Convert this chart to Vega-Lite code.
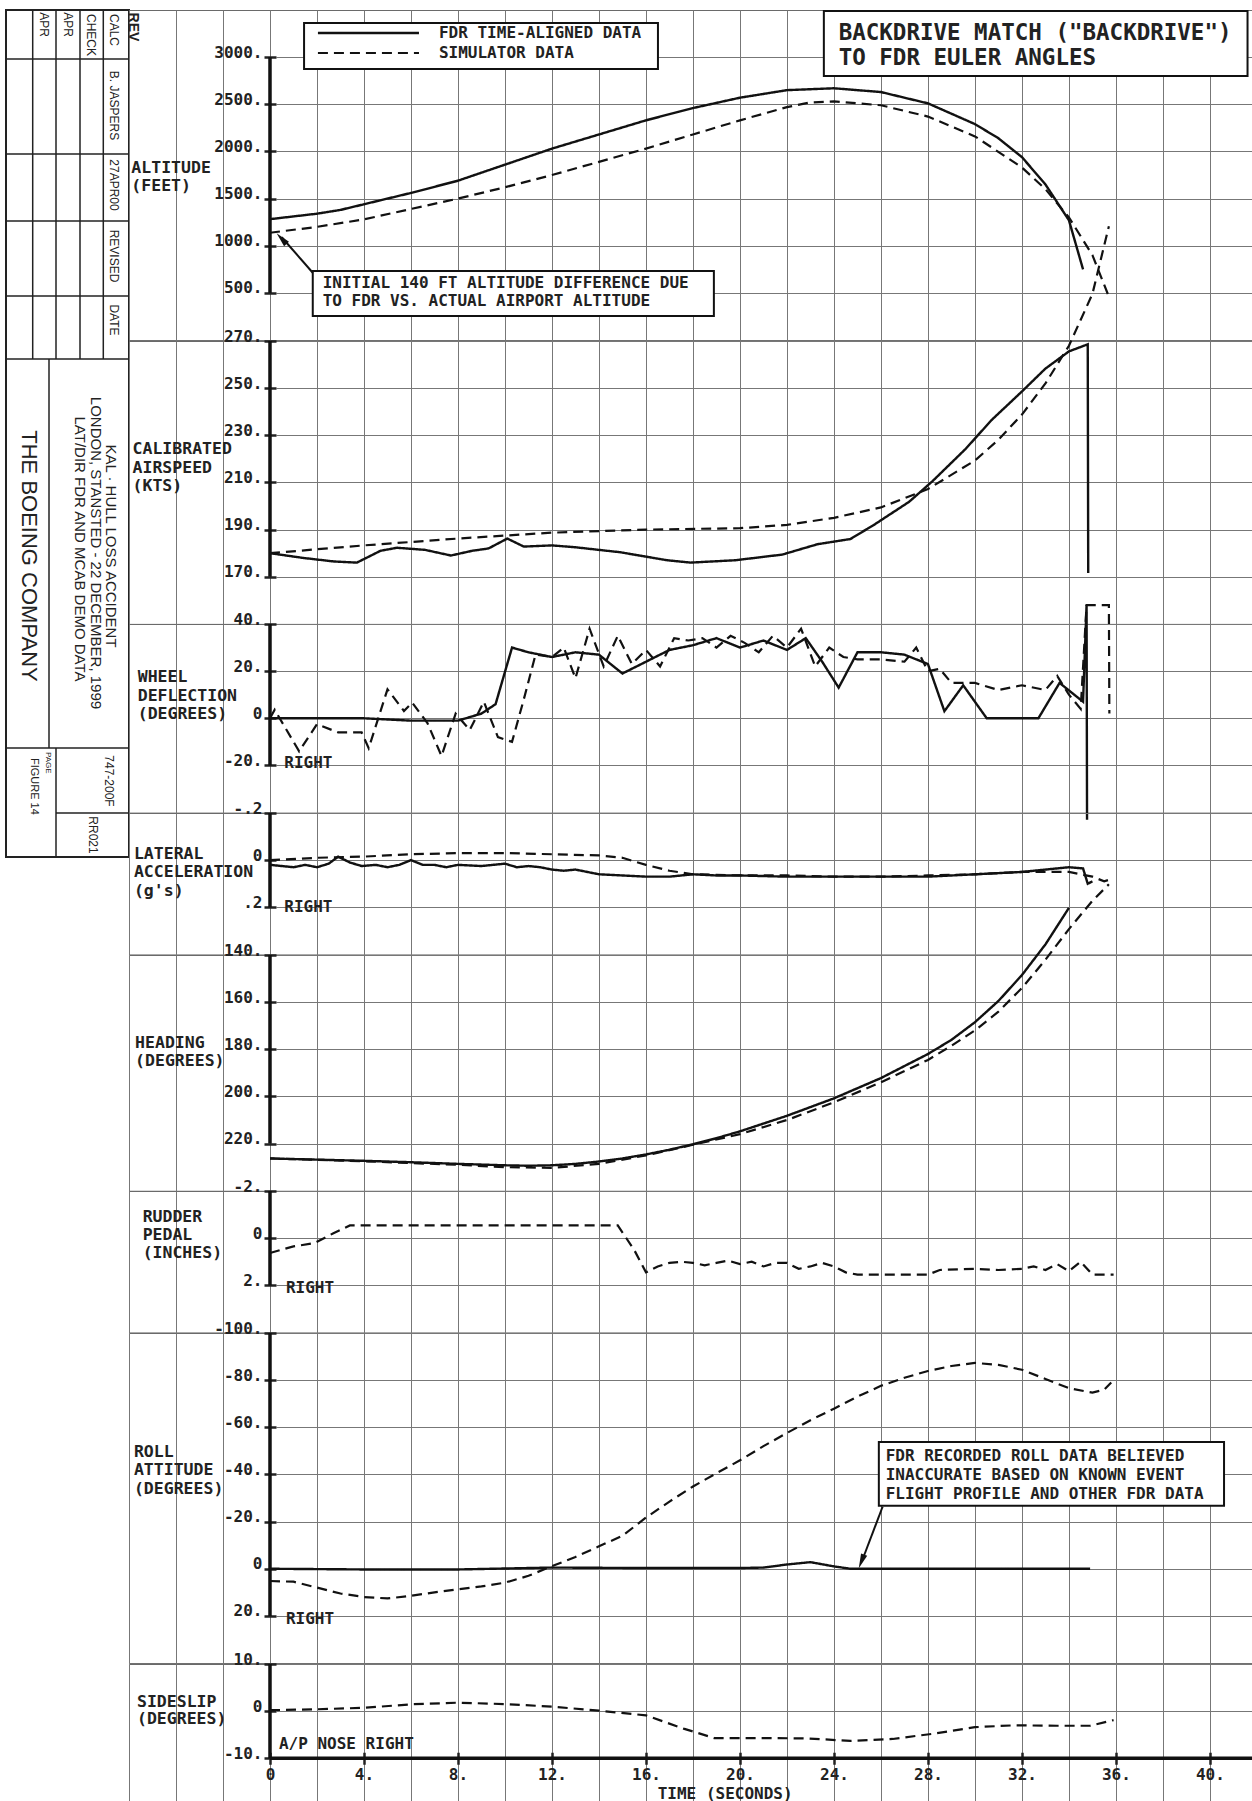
{
"$schema": "https://vega.github.io/schema/vega-lite/v6.json",
"padding": {"left": 5, "top": 9, "right": 0, "bottom": 0},
"background": "white",
"spacing": 0,
"bounds": "flush",
"config": {
  "view": {"stroke": "#6a6a6a", "strokeWidth": 1},
  "axisX": {"grid": true, "gridColor": "#777", "gridWidth": 1, "labels": false, "ticks": false, "domain": false},
  "axisY": {"grid": true, "gridColor": "#777", "gridWidth": 1, "domain": false, "ticks": true, "tickSize": 12, "tickWidth": 2.5, "tickColor": "#222", "offset": -147, "labelFont": "DejaVu Sans Mono", "labelFontWeight": "bold", "labelFontSize": 16, "labelColor": "#222", "labelPadding": 2, "labelBaseline": "alphabetic"},
  "text": {"font": "DejaVu Sans Mono", "fontWeight": "bold", "color": "#222", "baseline": "middle", "align": "left"},
  "line": {"color": "#111"},
  "rule": {"color": "#111"}
},
"datasets": {
  "alt": [
    {"t":0,"v":1282,"s":"F"},{"t":2,"v":1340,"s":"F"},{"t":3,"v":1380,"s":"F"},{"t":4,"v":1440,"s":"F"},{"t":6,"v":1560,"s":"F"},{"t":8,"v":1690,"s":"F"},{"t":10,"v":1860,"s":"F"},{"t":12,"v":2030,"s":"F"},{"t":14,"v":2180,"s":"F"},{"t":16,"v":2330,"s":"F"},{"t":18,"v":2460,"s":"F"},{"t":20,"v":2570,"s":"F"},{"t":22,"v":2650,"s":"F"},{"t":24,"v":2670,"s":"F"},{"t":26,"v":2630,"s":"F"},{"t":28,"v":2510,"s":"F"},{"t":30,"v":2290,"s":"F"},{"t":31,"v":2140,"s":"F"},{"t":32,"v":1940,"s":"F"},{"t":33,"v":1650,"s":"F"},{"t":34,"v":1270,"s":"F"},{"t":34.6,"v":750,"s":"F"},
    {"t":0,"v":1138,"s":"S"},{"t":2,"v":1200,"s":"S"},{"t":4,"v":1280,"s":"S"},{"t":6,"v":1390,"s":"S"},{"t":8,"v":1500,"s":"S"},{"t":10,"v":1620,"s":"S"},{"t":12,"v":1750,"s":"S"},{"t":14,"v":1890,"s":"S"},{"t":16,"v":2030,"s":"S"},{"t":18,"v":2180,"s":"S"},{"t":20,"v":2330,"s":"S"},{"t":22,"v":2470,"s":"S"},{"t":23,"v":2520,"s":"S"},{"t":24,"v":2530,"s":"S"},{"t":26,"v":2490,"s":"S"},{"t":28,"v":2370,"s":"S"},{"t":30,"v":2160,"s":"S"},{"t":32,"v":1830,"s":"S"},{"t":33,"v":1600,"s":"S"},{"t":34,"v":1300,"s":"S"},{"t":35,"v":900,"s":"S"},{"t":35.7,"v":460,"s":"S"}
  ],
  "air": [
    {"t":0,"v":180,"s":"F"},{"t":1.4,"v":178,"s":"F"},{"t":2.7,"v":176.5,"s":"F"},{"t":3.7,"v":176,"s":"F"},{"t":4.7,"v":181,"s":"F"},{"t":5.4,"v":182.3,"s":"F"},{"t":6.6,"v":181.4,"s":"F"},{"t":7.7,"v":179,"s":"F"},{"t":8.6,"v":181,"s":"F"},{"t":9.3,"v":182,"s":"F"},{"t":10.1,"v":186.2,"s":"F"},{"t":10.8,"v":182.8,"s":"F"},{"t":12,"v":183.3,"s":"F"},{"t":13,"v":182.5,"s":"F"},{"t":14.9,"v":180.4,"s":"F"},{"t":16.9,"v":177,"s":"F"},{"t":17.9,"v":176,"s":"F"},{"t":19.8,"v":177,"s":"F"},{"t":21.8,"v":179.4,"s":"F"},{"t":23.3,"v":183.8,"s":"F"},{"t":24.7,"v":186,"s":"F"},{"t":25.7,"v":192,"s":"F"},{"t":27.2,"v":201.8,"s":"F"},{"t":28.2,"v":210.6,"s":"F"},{"t":29.6,"v":224.2,"s":"F"},{"t":30.7,"v":236.4,"s":"F"},{"t":32,"v":248.6,"s":"F"},{"t":33,"v":258.3,"s":"F"},{"t":34,"v":265.6,"s":"F"},{"t":34.8,"v":268.6,"s":"F"},{"t":34.82,"v":171.6,"s":"F"},
    {"t":0,"v":180,"s":"S"},{"t":4,"v":183.3,"s":"S"},{"t":8,"v":186.2,"s":"S"},{"t":12,"v":188.7,"s":"S"},{"t":16,"v":190,"s":"S"},{"t":20,"v":190.6,"s":"S"},{"t":22,"v":192,"s":"S"},{"t":24,"v":195,"s":"S"},{"t":26,"v":199.4,"s":"S"},{"t":28,"v":207.2,"s":"S"},{"t":30,"v":219.3,"s":"S"},{"t":31,"v":228.1,"s":"S"},{"t":32,"v":238.8,"s":"S"},{"t":33,"v":252,"s":"S"},{"t":34,"v":268,"s":"S"},{"t":35,"v":290,"s":"S"},{"t":35.7,"v":318.7,"s":"S"}
  ],
  "whl": [
    {"t":0,"v":0,"s":"F"},{"t":2,"v":0,"s":"F"},{"t":4,"v":0,"s":"F"},{"t":6,"v":-1,"s":"F"},{"t":8,"v":-1,"s":"F"},{"t":9,"v":2,"s":"F"},{"t":9.6,"v":6,"s":"F"},{"t":10.3,"v":30,"s":"F"},{"t":11,"v":28,"s":"F"},{"t":12,"v":26,"s":"F"},{"t":13,"v":28,"s":"F"},{"t":14,"v":27,"s":"F"},{"t":15,"v":19,"s":"F"},{"t":16,"v":24,"s":"F"},{"t":17,"v":29,"s":"F"},{"t":18,"v":31,"s":"F"},{"t":19,"v":34,"s":"F"},{"t":20,"v":30,"s":"F"},{"t":21,"v":33,"s":"F"},{"t":22,"v":29,"s":"F"},{"t":22.8,"v":34,"s":"F"},{"t":23.5,"v":24,"s":"F"},{"t":24.2,"v":13,"s":"F"},{"t":25,"v":28,"s":"F"},{"t":26,"v":28,"s":"F"},{"t":27,"v":27,"s":"F"},{"t":28,"v":23,"s":"F"},{"t":28.7,"v":3,"s":"F"},{"t":29.5,"v":14,"s":"F"},{"t":30.5,"v":0,"s":"F"},{"t":31.5,"v":0,"s":"F"},{"t":32.7,"v":0,"s":"F"},{"t":33.6,"v":15,"s":"F"},{"t":34.6,"v":7,"s":"F"},{"t":34.75,"v":48,"s":"F"},{"t":34.77,"v":-43,"s":"F"},
    {"t":0,"v":0,"s":"S"},{"t":0.2,"v":3.6,"s":"S"},{"t":1.24,"v":-14,"s":"S"},{"t":2,"v":-2.5,"s":"S"},{"t":2.9,"v":-6,"s":"S"},{"t":3.9,"v":-6,"s":"S"},{"t":4.2,"v":-12.7,"s":"S"},{"t":5,"v":12.3,"s":"S"},{"t":5.7,"v":3.1,"s":"S"},{"t":6.05,"v":6.7,"s":"S"},{"t":6.7,"v":-2,"s":"S"},{"t":7.3,"v":-16,"s":"S"},{"t":7.9,"v":2,"s":"S"},{"t":8.5,"v":-5,"s":"S"},{"t":9.1,"v":7,"s":"S"},{"t":9.7,"v":-8,"s":"S"},{"t":10.3,"v":-10,"s":"S"},{"t":10.8,"v":8,"s":"S"},{"t":11.3,"v":27,"s":"S"},{"t":12,"v":26,"s":"S"},{"t":12.5,"v":30,"s":"S"},{"t":13,"v":17,"s":"S"},{"t":13.6,"v":38,"s":"S"},{"t":14.2,"v":22,"s":"S"},{"t":14.8,"v":35,"s":"S"},{"t":15.4,"v":23,"s":"S"},{"t":16,"v":29,"s":"S"},{"t":16.6,"v":22,"s":"S"},{"t":17.2,"v":34,"s":"S"},{"t":17.8,"v":33,"s":"S"},{"t":18.4,"v":34,"s":"S"},{"t":19,"v":30,"s":"S"},{"t":19.6,"v":35,"s":"S"},{"t":20.2,"v":32,"s":"S"},{"t":20.8,"v":28,"s":"S"},{"t":21.4,"v":35,"s":"S"},{"t":22,"v":30,"s":"S"},{"t":22.6,"v":38,"s":"S"},{"t":23.2,"v":22,"s":"S"},{"t":23.8,"v":30,"s":"S"},{"t":24.4,"v":26,"s":"S"},{"t":25,"v":25,"s":"S"},{"t":26,"v":25,"s":"S"},{"t":27,"v":24,"s":"S"},{"t":27.5,"v":30,"s":"S"},{"t":28,"v":20,"s":"S"},{"t":28.5,"v":21,"s":"S"},{"t":29,"v":15,"s":"S"},{"t":30,"v":15,"s":"S"},{"t":31,"v":12,"s":"S"},{"t":32,"v":14,"s":"S"},{"t":33,"v":12,"s":"S"},{"t":33.5,"v":18,"s":"S"},{"t":34,"v":10,"s":"S"},{"t":34.5,"v":4,"s":"S"},{"t":34.75,"v":48,"s":"S"},{"t":35.7,"v":48,"s":"S"},{"t":35.72,"v":2,"s":"S"}
  ],
  "lat": [
    {"t":0,"v":0.02,"s":"F"},{"t":0.5,"v":0.025,"s":"F"},{"t":1,"v":0.03,"s":"F"},{"t":1.5,"v":0.02,"s":"F"},{"t":2,"v":0.03,"s":"F"},{"t":2.5,"v":0.015,"s":"F"},{"t":2.9,"v":-0.015,"s":"F"},{"t":3.4,"v":0.01,"s":"F"},{"t":3.9,"v":0.025,"s":"F"},{"t":4.5,"v":0.02,"s":"F"},{"t":5,"v":0.03,"s":"F"},{"t":5.5,"v":0.02,"s":"F"},{"t":6,"v":0,"s":"F"},{"t":6.5,"v":0.02,"s":"F"},{"t":7,"v":0.02,"s":"F"},{"t":7.5,"v":0.03,"s":"F"},{"t":8,"v":0.02,"s":"F"},{"t":9,"v":0.025,"s":"F"},{"t":10,"v":0.015,"s":"F"},{"t":10.5,"v":0.03,"s":"F"},{"t":11,"v":0.025,"s":"F"},{"t":11.5,"v":0.03,"s":"F"},{"t":12,"v":0.04,"s":"F"},{"t":12.5,"v":0.045,"s":"F"},{"t":13,"v":0.04,"s":"F"},{"t":14,"v":0.06,"s":"F"},{"t":15,"v":0.065,"s":"F"},{"t":16,"v":0.07,"s":"F"},{"t":17,"v":0.07,"s":"F"},{"t":18,"v":0.06,"s":"F"},{"t":19,"v":0.065,"s":"F"},{"t":20,"v":0.065,"s":"F"},{"t":22,"v":0.07,"s":"F"},{"t":24,"v":0.07,"s":"F"},{"t":26,"v":0.07,"s":"F"},{"t":28,"v":0.07,"s":"F"},{"t":30,"v":0.06,"s":"F"},{"t":32,"v":0.05,"s":"F"},{"t":33,"v":0.04,"s":"F"},{"t":34,"v":0.03,"s":"F"},{"t":34.6,"v":0.035,"s":"F"},{"t":34.8,"v":0.1,"s":"F"},{"t":35,"v":0.09,"s":"F"},
    {"t":0,"v":0,"s":"S"},{"t":2,"v":-0.01,"s":"S"},{"t":4,"v":-0.015,"s":"S"},{"t":6,"v":-0.025,"s":"S"},{"t":8,"v":-0.03,"s":"S"},{"t":10,"v":-0.03,"s":"S"},{"t":12,"v":-0.025,"s":"S"},{"t":14,"v":-0.02,"s":"S"},{"t":15,"v":-0.01,"s":"S"},{"t":16,"v":0.02,"s":"S"},{"t":17,"v":0.045,"s":"S"},{"t":18,"v":0.06,"s":"S"},{"t":20,"v":0.065,"s":"S"},{"t":22,"v":0.065,"s":"S"},{"t":24,"v":0.07,"s":"S"},{"t":26,"v":0.07,"s":"S"},{"t":28,"v":0.065,"s":"S"},{"t":30,"v":0.06,"s":"S"},{"t":32,"v":0.05,"s":"S"},{"t":34,"v":0.05,"s":"S"},{"t":35,"v":0.07,"s":"S"},{"t":35.5,"v":0.09,"s":"S"},{"t":35.8,"v":0.08,"s":"S"}
  ],
  "hdg": [
    {"t":0,"v":226.3,"s":"F"},{"t":2,"v":226.8,"s":"F"},{"t":4,"v":227.3,"s":"F"},{"t":6,"v":227.9,"s":"F"},{"t":8,"v":228.6,"s":"F"},{"t":10,"v":229.2,"s":"F"},{"t":11,"v":229.4,"s":"F"},{"t":12,"v":229.2,"s":"F"},{"t":13,"v":228.6,"s":"F"},{"t":14,"v":227.6,"s":"F"},{"t":15,"v":226.3,"s":"F"},{"t":16,"v":224.6,"s":"F"},{"t":17,"v":222.6,"s":"F"},{"t":18,"v":220.3,"s":"F"},{"t":19,"v":217.7,"s":"F"},{"t":20,"v":214.8,"s":"F"},{"t":22,"v":208.2,"s":"F"},{"t":24,"v":200.8,"s":"F"},{"t":26,"v":192.2,"s":"F"},{"t":28,"v":182,"s":"F"},{"t":29,"v":176,"s":"F"},{"t":30,"v":168.5,"s":"F"},{"t":31,"v":159.5,"s":"F"},{"t":32,"v":148.5,"s":"F"},{"t":33,"v":135.5,"s":"F"},{"t":34,"v":120,"s":"F"},
    {"t":0,"v":226.3,"s":"S"},{"t":4,"v":227.5,"s":"S"},{"t":8,"v":229,"s":"S"},{"t":10,"v":230,"s":"S"},{"t":12,"v":230.3,"s":"S"},{"t":14,"v":228.6,"s":"S"},{"t":16,"v":225,"s":"S"},{"t":18,"v":220.5,"s":"S"},{"t":20,"v":216,"s":"S"},{"t":22,"v":210,"s":"S"},{"t":24,"v":202.5,"s":"S"},{"t":26,"v":194,"s":"S"},{"t":28,"v":184.5,"s":"S"},{"t":29,"v":178.5,"s":"S"},{"t":30,"v":172,"s":"S"},{"t":31,"v":164,"s":"S"},{"t":32,"v":154,"s":"S"},{"t":33,"v":142,"s":"S"},{"t":34,"v":129,"s":"S"},{"t":35,"v":117,"s":"S"},{"t":35.7,"v":110,"s":"S"}
  ],
  "rud": [
    {"t":0,"v":0.63,"s":"S"},{"t":1,"v":0.35,"s":"S"},{"t":1.9,"v":0.21,"s":"S"},{"t":2.7,"v":-0.21,"s":"S"},{"t":3.4,"v":-0.54,"s":"S"},{"t":8,"v":-0.54,"s":"S"},{"t":14.8,"v":-0.54,"s":"S"},{"t":15.5,"v":0.5,"s":"S"},{"t":16,"v":1.45,"s":"S"},{"t":16.5,"v":1.2,"s":"S"},{"t":17,"v":1.05,"s":"S"},{"t":17.5,"v":1,"s":"S"},{"t":18,"v":1.05,"s":"S"},{"t":18.5,"v":1.15,"s":"S"},{"t":19,"v":1.05,"s":"S"},{"t":19.5,"v":0.95,"s":"S"},{"t":20,"v":1.1,"s":"S"},{"t":20.5,"v":1,"s":"S"},{"t":21,"v":1.2,"s":"S"},{"t":21.5,"v":1.05,"s":"S"},{"t":22,"v":1.05,"s":"S"},{"t":22.5,"v":1.3,"s":"S"},{"t":23,"v":1.2,"s":"S"},{"t":23.5,"v":1.05,"s":"S"},{"t":24,"v":1.2,"s":"S"},{"t":24.5,"v":1.45,"s":"S"},{"t":25,"v":1.55,"s":"S"},{"t":28,"v":1.55,"s":"S"},{"t":28.5,"v":1.35,"s":"S"},{"t":30,"v":1.3,"s":"S"},{"t":31,"v":1.35,"s":"S"},{"t":32,"v":1.3,"s":"S"},{"t":32.5,"v":1.2,"s":"S"},{"t":33,"v":1.35,"s":"S"},{"t":33.5,"v":1.1,"s":"S"},{"t":34,"v":1.4,"s":"S"},{"t":34.5,"v":1,"s":"S"},{"t":35,"v":1.55,"s":"S"},{"t":35.9,"v":1.55,"s":"S"}
  ],
  "rol": [
    {"t":0,"v":0,"s":"F"},{"t":4,"v":0.3,"s":"F"},{"t":8,"v":0.3,"s":"F"},{"t":12,"v":-0.5,"s":"F"},{"t":16,"v":-0.3,"s":"F"},{"t":20,"v":-0.3,"s":"F"},{"t":21,"v":-0.5,"s":"F"},{"t":22,"v":-1.8,"s":"F"},{"t":23,"v":-2.8,"s":"F"},{"t":24,"v":-1,"s":"F"},{"t":24.7,"v":0,"s":"F"},{"t":28,"v":0,"s":"F"},{"t":32,"v":0,"s":"F"},{"t":34.9,"v":0,"s":"F"},
    {"t":0,"v":5.2,"s":"S"},{"t":1,"v":5.5,"s":"S"},{"t":2,"v":8,"s":"S"},{"t":3,"v":10.5,"s":"S"},{"t":4,"v":12,"s":"S"},{"t":5,"v":12.6,"s":"S"},{"t":6,"v":11.5,"s":"S"},{"t":7,"v":10,"s":"S"},{"t":8,"v":8.7,"s":"S"},{"t":9,"v":7.5,"s":"S"},{"t":10,"v":5.9,"s":"S"},{"t":11,"v":3,"s":"S"},{"t":12,"v":-1.1,"s":"S"},{"t":13,"v":-5,"s":"S"},{"t":14,"v":-9.5,"s":"S"},{"t":15,"v":-14,"s":"S"},{"t":16,"v":-21.7,"s":"S"},{"t":17,"v":-28.5,"s":"S"},{"t":18,"v":-34.9,"s":"S"},{"t":19,"v":-40.5,"s":"S"},{"t":20,"v":-46,"s":"S"},{"t":21,"v":-52,"s":"S"},{"t":22,"v":-57.6,"s":"S"},{"t":23,"v":-63,"s":"S"},{"t":24,"v":-67.9,"s":"S"},{"t":25,"v":-73,"s":"S"},{"t":26,"v":-77.6,"s":"S"},{"t":27,"v":-81,"s":"S"},{"t":28,"v":-83.9,"s":"S"},{"t":29,"v":-86,"s":"S"},{"t":30,"v":-87.3,"s":"S"},{"t":31,"v":-86.5,"s":"S"},{"t":32,"v":-84.4,"s":"S"},{"t":33,"v":-80.5,"s":"S"},{"t":34,"v":-76.6,"s":"S"},{"t":35,"v":-74.7,"s":"S"},{"t":35.5,"v":-76,"s":"S"},{"t":35.8,"v":-79,"s":"S"}
  ],
  "sds": [
    {"t":0,"v":0.2,"s":"S"},{"t":2,"v":0.4,"s":"S"},{"t":4,"v":0.7,"s":"S"},{"t":6,"v":1.45,"s":"S"},{"t":8,"v":1.8,"s":"S"},{"t":10,"v":1.5,"s":"S"},{"t":12,"v":0.95,"s":"S"},{"t":14,"v":0.1,"s":"S"},{"t":16,"v":-0.9,"s":"S"},{"t":17.6,"v":-3.7,"s":"S"},{"t":18.9,"v":-5.7,"s":"S"},{"t":21.2,"v":-5.7,"s":"S"},{"t":22.9,"v":-5.8,"s":"S"},{"t":24.7,"v":-6.3,"s":"S"},{"t":26.5,"v":-5.9,"s":"S"},{"t":28.2,"v":-4.8,"s":"S"},{"t":30,"v":-3.4,"s":"S"},{"t":31.7,"v":-3,"s":"S"},{"t":33.5,"v":-3.1,"s":"S"},{"t":34.9,"v":-3.1,"s":"S"},{"t":35.9,"v":-1.9,"s":"S"}
  ]
},
"hconcat": [
  {
    "width": 123, "height": 848,
    "view": {"stroke": null},
    "encoding": {
      "x": {"field":"a","type":"quantitative","scale":{"domain":[5,128],"nice":false,"zero":false},"axis":null},
      "y": {"field":"b","type":"quantitative","scale":{"domain":[9,857],"reverse":true,"nice":false,"zero":false},"axis":null}
    },
    "layer": [
      {"data": {"values": [{"a":5,"b":9,"c":128,"d":856}]},
       "mark": {"type": "rect", "fill": null, "stroke": "#222", "strokeWidth": 2},
       "encoding": {"x2": {"field":"c"}, "y2": {"field":"d"}}},
      {"data": {"values": [
         {"a":31.7,"b":9,"c":31.7,"d":358},{"a":55,"b":9,"c":55,"d":358},{"a":79,"b":9,"c":79,"d":358},{"a":102.3,"b":9,"c":102.3,"d":358},
         {"a":5,"b":58,"c":128,"d":58},{"a":5,"b":153,"c":128,"d":153},{"a":5,"b":220,"c":128,"d":220},{"a":5,"b":295,"c":128,"d":295},{"a":5,"b":358,"c":128,"d":358},
         {"a":48,"b":358,"c":48,"d":747},{"a":5,"b":747,"c":128,"d":747},{"a":55,"b":747,"c":55,"d":856},{"a":55,"b":812,"c":128,"d":812}
       ]},
       "mark": {"type": "rule", "strokeWidth": 1.5, "color": "#222"},
       "encoding": {"x2": {"field":"c"}, "y2": {"field":"d"}}},
      {"data": {"values": [
         {"a":43,"b":23.5,"label":"APR"},{"a":67,"b":23.5,"label":"APR"},{"a":90,"b":34,"label":"CHECK"},{"a":113,"b":29,"label":"CALC"},
         {"a":113,"b":104.5,"label":"B. JASPERS"},{"a":113,"b":184,"label":"27APR00"},{"a":113,"b":255,"label":"REVISED"},{"a":113,"b":319,"label":"DATE"},
         {"a":108,"b":780,"label":"747-200F"},{"a":92,"b":834,"label":"RR021"}
       ]},
       "mark": {"type": "text", "angle": 90, "align": "center", "font": "Liberation Sans", "fontWeight": "normal", "fontSize": 12},
       "encoding": {"text": {"field":"label"}}},
      {"data": {"values": [{"a":33,"b":757,"label":"FIGURE 14"}]},
       "mark": {"type": "text", "angle": 90, "align": "left", "font": "Liberation Sans", "fontWeight": "normal", "fontSize": 11},
       "encoding": {"text": {"field":"label"}}},
      {"data": {"values": [{"a":47,"b":751,"label":"PAGE"}]},
       "mark": {"type": "text", "angle": 90, "align": "left", "font": "Liberation Sans", "fontWeight": "normal", "fontSize": 8},
       "encoding": {"text": {"field":"label"}}},
      {"data": {"values": [
         {"a":110,"b":545,"label":"KAL · HULL LOSS ACCIDENT"},{"a":94.5,"b":552,"label":"LONDON, STANSTED - 22 DECEMBER, 1999"},{"a":79,"b":548,"label":"LAT/DIR FDR AND MCAB DEMO DATA"}
       ]},
       "mark": {"type": "text", "angle": 90, "align": "center", "font": "Liberation Sans", "fontWeight": "normal", "fontSize": 15},
       "encoding": {"text": {"field":"label"}}},
      {"data": {"values": [{"a":28,"b":555,"label":"THE BOEING COMPANY"}]},
       "mark": {"type": "text", "angle": 90, "align": "center", "font": "Liberation Sans", "fontWeight": "normal", "fontSize": 22},
       "encoding": {"text": {"field":"label"}}}
    ]
  },
  {
    "spacing": 0,
    "bounds": "flush",
    "vconcat": [
      {
        "width": 1123, "height": 330.05,
        "encoding": {
          "x": {"field":"t","type":"quantitative","scale":{"domain":[-6,41.79],"nice":false,"zero":false},"axis":{"values":[-6,-4,-2,0,2,4,6,8,10,12,14,16,18,20,22,24,26,28,30,32,34,36,38,40],"title":null}},
          "y": {"field":"v","type":"quantitative","scale":{"domain":[0,3500],"nice":false,"zero":false},"axis":{"values":[500,1000,1500,2000,2500,3000],"title":null,"labelExpr":"datum.value + '.'"}}
        },
        "layer": [
          {"data": {"name": "alt"}, "mark": {"type": "line"},
           "encoding": {
             "strokeDash": {"field":"s","type":"nominal","scale":{"domain":["F","S"],"range":[[1,0],[10,6]]},"legend":null},
             "strokeWidth": {"field":"s","type":"nominal","scale":{"domain":["F","S"],"range":[2.4,2.2]},"legend":null}}},
          {"data": {"values": [{"t":0,"v":500,"v2":3000}]}, "mark": {"type":"rule","strokeWidth":3.5},
           "encoding": {"y2": {"field":"v2"}}},
          {"data": {"values": [{"t":-5.9,"v":1828,"label":"ALTITUDE"},{"t":-5.9,"v":1634,"label":"(FEET)"}]}, "mark": {"type":"text","fontSize":16.5},
           "encoding": {"text": {"field":"label"}}},
          {"data": {"values": [{"t":-5.83,"v":3320,"label":"REV"}]}, "mark": {"type":"text","fontSize":14,"angle":90,"align":"center","font":"Liberation Sans"},
           "encoding": {"text": {"field":"label"}}},
          {"data": {"values": [{"t":1.45,"t2":16.51,"v":3362,"v2":2874},{"t":23.57,"t2":41.6,"v":3489,"v2":2800},{"t":1.82,"t2":18.89,"v":732,"v2":255}]},
           "mark": {"type":"rect","fill":"white","stroke":"#111","strokeWidth":2},
           "encoding": {"x2": {"field":"t2"}, "y2": {"field":"v2"}}},
          {"data": {"values": [{"t":2.04,"t2":6.34,"v":3256,"s":"F"},{"t":2.04,"t2":6.34,"v":3044,"s":"S"}]},
           "mark": {"type":"rule"},
           "encoding": {"x2": {"field":"t2"},
                        "strokeDash": {"field":"s","type":"nominal","scale":{"domain":["F","S"],"range":[[1,0],[10,6]]},"legend":null},
                        "strokeWidth": {"field":"s","type":"nominal","scale":{"domain":["F","S"],"range":[2.4,2.2]},"legend":null}}},
          {"data": {"values": [{"t":7.19,"v":3256,"label":"FDR TIME-ALIGNED DATA"},{"t":7.19,"v":3044,"label":"SIMULATOR DATA"}]}, "mark": {"type":"text","fontSize":16},
           "encoding": {"text": {"field":"label"}}},
          {"data": {"values": [{"t":24.2,"v":3259,"label":"BACKDRIVE MATCH (\"BACKDRIVE\")"},{"t":24.2,"v":2994,"label":"TO FDR EULER ANGLES"}]}, "mark": {"type":"text","fontSize":22.5},
           "encoding": {"text": {"field":"label"}}},
          {"data": {"values": [{"t":2.24,"v":608,"label":"INITIAL 140 FT ALTITUDE DIFFERENCE DUE"},{"t":2.24,"v":414,"label":"TO FDR VS. ACTUAL AIRPORT ALTITUDE"}]}, "mark": {"type":"text","fontSize":16},
           "encoding": {"text": {"field":"label"}}},
          {"data": {"values": [{"t":1.82,"t2":0.5,"v":714,"v2":1090}]}, "mark": {"type":"rule","strokeWidth":2},
           "encoding": {"x2": {"field":"t2"}, "y2": {"field":"v2"}}},
          {"data": {"values": [{"t":0.53,"v":1066}]}, "mark": {"type":"point","shape":"M0,-1L0.38,0.7L-0.38,0.7Z","filled":true,"color":"#111","size":300,"angle":317.6,"opacity":1},
           "encoding": {}}
        ]
      },
      {
        "width": 1123, "height": 282.9,
        "encoding": {
          "x": {"field":"t","type":"quantitative","scale":{"domain":[-6,41.79],"nice":false,"zero":false},"axis":{"values":[-6,-4,-2,0,2,4,6,8,10,12,14,16,18,20,22,24,26,28,30,32,34,36,38,40],"title":null}},
          "y": {"field":"v","type":"quantitative","scale":{"domain":[150,270],"nice":false,"zero":false},"axis":{"values":[170,190,210,230,250,270],"title":null,"labelExpr":"datum.value + '.'"}}
        },
        "layer": [
          {"data": {"name": "air"}, "mark": {"type": "line"},
           "encoding": {
             "strokeDash": {"field":"s","type":"nominal","scale":{"domain":["F","S"],"range":[[1,0],[10,6]]},"legend":null},
             "strokeWidth": {"field":"s","type":"nominal","scale":{"domain":["F","S"],"range":[2.4,2.2]},"legend":null}}},
          {"data": {"values": [{"t":0,"v":170,"v2":270}]}, "mark": {"type":"rule","strokeWidth":3.5},
           "encoding": {"y2": {"field":"v2"}}},
          {"data": {"values": [{"t":-5.85,"v":224.3,"label":"CALIBRATED"},{"t":-5.85,"v":216.3,"label":"AIRSPEED"},{"t":-5.85,"v":208.5,"label":"(KTS)"}]}, "mark": {"type":"text","fontSize":16.5},
           "encoding": {"text": {"field":"label"}}}
        ]
      },
      {
        "width": 1123, "height": 188.6,
        "encoding": {
          "x": {"field":"t","type":"quantitative","scale":{"domain":[-6,41.79],"nice":false,"zero":false},"axis":{"values":[-6,-4,-2,0,2,4,6,8,10,12,14,16,18,20,22,24,26,28,30,32,34,36,38,40],"title":null}},
          "y": {"field":"v","type":"quantitative","scale":{"domain":[-40,40],"nice":false,"zero":false},"axis":{"values":[-20,0,20,40],"title":null,"labelExpr":"datum.value == 0 ? '0' : datum.value + '.'"}}
        },
        "layer": [
          {"data": {"name": "whl"}, "mark": {"type": "line"},
           "encoding": {
             "strokeDash": {"field":"s","type":"nominal","scale":{"domain":["F","S"],"range":[[1,0],[10,6]]},"legend":null},
             "strokeWidth": {"field":"s","type":"nominal","scale":{"domain":["F","S"],"range":[2.4,2.2]},"legend":null}}},
          {"data": {"values": [{"t":0,"v":-20,"v2":40}]}, "mark": {"type":"rule","strokeWidth":3.5},
           "encoding": {"y2": {"field":"v2"}}},
          {"data": {"values": [{"t":-5.63,"v":17.4,"label":"WHEEL"},{"t":-5.63,"v":9.6,"label":"DEFLECTION"},{"t":-5.63,"v":1.8,"label":"(DEGREES)"}]}, "mark": {"type":"text","fontSize":16.5},
           "encoding": {"text": {"field":"label"}}},
          {"data": {"values": [{"t":0.61,"v":-19,"label":"RIGHT"}]}, "mark": {"type":"text","fontSize":16},
           "encoding": {"text": {"field":"label"}}}
        ]
      },
      {
        "width": 1123, "height": 141.45,
        "encoding": {
          "x": {"field":"t","type":"quantitative","scale":{"domain":[-6,41.79],"nice":false,"zero":false},"axis":{"values":[-6,-4,-2,0,2,4,6,8,10,12,14,16,18,20,22,24,26,28,30,32,34,36,38,40],"title":null}},
          "y": {"field":"v","type":"quantitative","scale":{"domain":[-0.2,0.4],"reverse":true,"nice":false,"zero":false},"axis":{"values":[-0.2,0,0.2],"title":null,"labelExpr":"datum.value == 0 ? '0' : (datum.value < 0 ? '-.2' : '.2')"}}
        },
        "layer": [
          {"data": {"name": "lat"}, "mark": {"type": "line"},
           "encoding": {
             "strokeDash": {"field":"s","type":"nominal","scale":{"domain":["F","S"],"range":[[1,0],[10,6]]},"legend":null},
             "strokeWidth": {"field":"s","type":"nominal","scale":{"domain":["F","S"],"range":[2.4,2.2]},"legend":null}}},
          {"data": {"values": [{"t":0,"v":-0.2,"v2":0.2}]}, "mark": {"type":"rule","strokeWidth":3.5},
           "encoding": {"y2": {"field":"v2"}}},
          {"data": {"values": [{"t":-5.79,"v":-0.0275,"label":"LATERAL"},{"t":-5.79,"v":0.05,"label":"ACCELERATION"},{"t":-5.79,"v":0.132,"label":"(g's)"}]}, "mark": {"type":"text","fontSize":16.5},
           "encoding": {"text": {"field":"label"}}},
          {"data": {"values": [{"t":0.61,"v":0.2,"label":"RIGHT"}]}, "mark": {"type":"text","fontSize":16},
           "encoding": {"text": {"field":"label"}}}
        ]
      },
      {
        "width": 1123, "height": 235.75,
        "encoding": {
          "x": {"field":"t","type":"quantitative","scale":{"domain":[-6,41.79],"nice":false,"zero":false},"axis":{"values":[-6,-4,-2,0,2,4,6,8,10,12,14,16,18,20,22,24,26,28,30,32,34,36,38,40],"title":null}},
          "y": {"field":"v","type":"quantitative","scale":{"domain":[140,240],"reverse":true,"nice":false,"zero":false},"axis":{"values":[140,160,180,200,220],"title":null,"labelExpr":"datum.value + '.'"}}
        },
        "layer": [
          {"data": {"name": "hdg"}, "mark": {"type": "line"},
           "encoding": {
             "strokeDash": {"field":"s","type":"nominal","scale":{"domain":["F","S"],"range":[[1,0],[10,6]]},"legend":null},
             "strokeWidth": {"field":"s","type":"nominal","scale":{"domain":["F","S"],"range":[2.4,2.2]},"legend":null}}},
          {"data": {"values": [{"t":0,"v":140,"v2":220}]}, "mark": {"type":"rule","strokeWidth":3.5},
           "encoding": {"y2": {"field":"v2"}}},
          {"data": {"values": [{"t":-5.74,"v":177.2,"label":"HEADING"},{"t":-5.74,"v":185,"label":"(DEGREES)"}]}, "mark": {"type":"text","fontSize":16.5},
           "encoding": {"text": {"field":"label"}}}
        ]
      },
      {
        "width": 1123, "height": 141.45,
        "encoding": {
          "x": {"field":"t","type":"quantitative","scale":{"domain":[-6,41.79],"nice":false,"zero":false},"axis":{"values":[-6,-4,-2,0,2,4,6,8,10,12,14,16,18,20,22,24,26,28,30,32,34,36,38,40],"title":null}},
          "y": {"field":"v","type":"quantitative","scale":{"domain":[-2,4],"reverse":true,"nice":false,"zero":false},"axis":{"values":[-2,0,2],"title":null,"labelExpr":"datum.value == 0 ? '0' : datum.value + '.'"}}
        },
        "layer": [
          {"data": {"name": "rud"}, "mark": {"type": "line"},
           "encoding": {
             "strokeDash": {"field":"s","type":"nominal","scale":{"domain":["F","S"],"range":[[1,0],[10,6]]},"legend":null},
             "strokeWidth": {"field":"s","type":"nominal","scale":{"domain":["F","S"],"range":[2.4,2.2]},"legend":null}}},
          {"data": {"values": [{"t":0,"v":-2,"v2":2}]}, "mark": {"type":"rule","strokeWidth":3.5},
           "encoding": {"y2": {"field":"v2"}}},
          {"data": {"values": [{"t":-5.42,"v":-0.91,"label":"RUDDER"},{"t":-5.42,"v":-0.135,"label":"PEDAL"},{"t":-5.42,"v":0.645,"label":"(INCHES)"}]}, "mark": {"type":"text","fontSize":16.5},
           "encoding": {"text": {"field":"label"}}},
          {"data": {"values": [{"t":0.68,"v":2.1,"label":"RIGHT"}]}, "mark": {"type":"text","fontSize":16},
           "encoding": {"text": {"field":"label"}}}
        ]
      },
      {
        "width": 1123, "height": 330.05,
        "encoding": {
          "x": {"field":"t","type":"quantitative","scale":{"domain":[-6,41.79],"nice":false,"zero":false},"axis":{"values":[-6,-4,-2,0,2,4,6,8,10,12,14,16,18,20,22,24,26,28,30,32,34,36,38,40],"title":null}},
          "y": {"field":"v","type":"quantitative","scale":{"domain":[-100,40],"reverse":true,"nice":false,"zero":false},"axis":{"values":[-100,-80,-60,-40,-20,0,20],"title":null,"labelExpr":"datum.value == 0 ? '0' : datum.value + '.'"}}
        },
        "layer": [
          {"data": {"name": "rol"}, "mark": {"type": "line"},
           "encoding": {
             "strokeDash": {"field":"s","type":"nominal","scale":{"domain":["F","S"],"range":[[1,0],[10,6]]},"legend":null},
             "strokeWidth": {"field":"s","type":"nominal","scale":{"domain":["F","S"],"range":[2.4,2.2]},"legend":null}}},
          {"data": {"values": [{"t":0,"v":-100,"v2":20}]}, "mark": {"type":"rule","strokeWidth":3.5},
           "encoding": {"y2": {"field":"v2"}}},
          {"data": {"values": [{"t":-5.79,"v":-49.4,"label":"ROLL"},{"t":-5.79,"v":-41.7,"label":"ATTITUDE"},{"t":-5.79,"v":-33.9,"label":"(DEGREES)"}]}, "mark": {"type":"text","fontSize":16.5},
           "encoding": {"text": {"field":"label"}}},
          {"data": {"values": [{"t":0.68,"v":21.5,"label":"RIGHT"}]}, "mark": {"type":"text","fontSize":16},
           "encoding": {"text": {"field":"label"}}},
          {"data": {"values": [{"t":25.91,"t2":40.6,"v":-53.8,"v2":-26.7}]},
           "mark": {"type":"rect","fill":"white","stroke":"#111","strokeWidth":2},
           "encoding": {"x2": {"field":"t2"}, "y2": {"field":"v2"}}},
          {"data": {"values": [{"t":26.2,"v":-48,"label":"FDR RECORDED ROLL DATA BELIEVED"},{"t":26.2,"v":-39.6,"label":"INACCURATE BASED ON KNOWN EVENT"},{"t":26.2,"v":-31.8,"label":"FLIGHT PROFILE AND OTHER FDR DATA"}]}, "mark": {"type":"text","fontSize":16},
           "encoding": {"text": {"field":"label"}}},
          {"data": {"values": [{"t":26.07,"t2":25.2,"v":-26.3,"v2":-3.5}]}, "mark": {"type":"rule","strokeWidth":2},
           "encoding": {"x2": {"field":"t2"}, "y2": {"field":"v2"}}},
          {"data": {"values": [{"t":25.19,"v":-3.6}]}, "mark": {"type":"point","shape":"M0,-1L0.38,0.7L-0.38,0.7Z","filled":true,"color":"#111","size":300,"angle":201.3,"opacity":1},
           "encoding": {}}
        ]
      },
      {
        "width": 1123, "height": 141.45,
        "encoding": {
          "x": {"field":"t","type":"quantitative","scale":{"domain":[-6,41.79],"nice":false,"zero":false},
                "axis":{"values":[-6,-4,-2,0,2,4,6,8,10,12,14,16,18,20,22,24,26,28,30,32,34,36,38,40],"title":null,
                        "labels":true,"ticks":true,"tickSize":12,"tickWidth":2.5,"tickColor":"#222",
                        "tickOpacity":{"condition":{"test":"datum.value < 0 || datum.value % 4 != 0","value":0},"value":1},
                        "offset":-53.2,"labelExpr":"datum.value >= 0 && datum.value % 4 == 0 ? (datum.value == 0 ? '0' : datum.value + '.') : ''",
                        "labelFont":"DejaVu Sans Mono","labelFontWeight":"bold","labelFontSize":16,"labelColor":"#222","labelPadding":2,"labelFlush":false,"labelOverlap":false}},
          "y": {"field":"v","type":"quantitative","scale":{"domain":[-20,10],"nice":false,"zero":false},"axis":{"values":[-10,0,10],"title":null,"labelExpr":"datum.value == 0 ? '0' : datum.value + '.'"}}
        },
        "layer": [
          {"data": {"name": "sds"}, "mark": {"type": "line"},
           "encoding": {
             "strokeDash": {"field":"s","type":"nominal","scale":{"domain":["F","S"],"range":[[1,0],[10,6]]},"legend":null},
             "strokeWidth": {"field":"s","type":"nominal","scale":{"domain":["F","S"],"range":[2.4,2.2]},"legend":null}}},
          {"data": {"values": [{"t":0,"t2":0,"v":-10,"v2":10},{"t":0,"t2":41.79,"v":-10,"v2":-10}]}, "mark": {"type":"rule","strokeWidth":3.5},
           "encoding": {"x2": {"field":"t2"}, "y2": {"field":"v2"}}},
          {"data": {"values": [{"t":-5.66,"v":2.03,"label":"SIDESLIP"},{"t":-5.66,"v":-1.66,"label":"(DEGREES)"}]}, "mark": {"type":"text","fontSize":16.5},
           "encoding": {"text": {"field":"label"}}},
          {"data": {"values": [{"t":0.38,"v":-7,"label":"A/P NOSE RIGHT"},{"t":16.5,"v":-17.6,"label":"TIME (SECONDS)"}]}, "mark": {"type":"text","fontSize":16},
           "encoding": {"text": {"field":"label"}}}
        ]
      }
    ]
  }
]
}
